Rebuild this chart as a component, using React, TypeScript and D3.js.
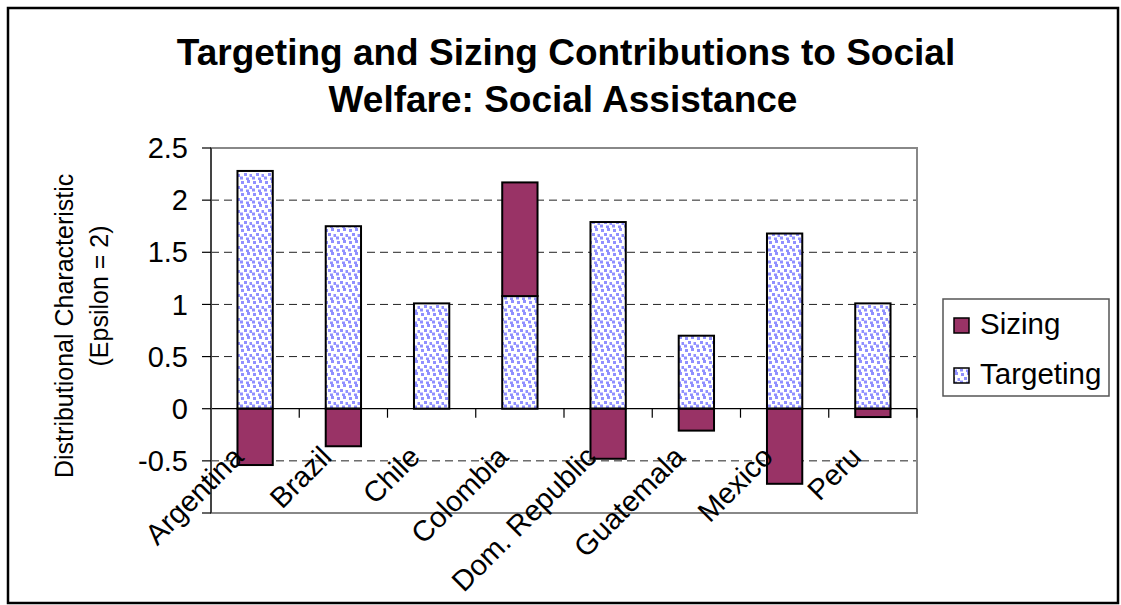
import React from "react";
import * as d3 from "d3";

const categories = ["Argentina", "Brazil", "Chile", "Colombia", "Dom. Republic", "Guatemala", "Mexico", "Peru"];
const targeting = [2.28, 1.75, 1.01, 1.08, 1.79, 0.7, 1.68, 1.01];
const sizing = [-0.54, -0.36, 0, 1.09, -0.48, -0.21, -0.72, -0.08];
const yTicks = [-1, -0.5, 0, 0.5, 1, 1.5, 2, 2.5];
const yTickLabels = ["", "-0.5", "0", "0.5", "1", "1.5", "2", "2.5"];
const seriesKeys = ["Targeting", "Sizing"];
const legendItems = ["Sizing", "Targeting"];

const W = 1121;
const H = 605;
const FONT = "Liberation Sans, Arial, sans-serif";
const PLOT = { left: 211, right: 917, top: 148, bottom: 513 };
const SIZING_COLOR = "#993366";
const DOT = "#9090ff";

export default function App() {
  const x = d3
    .scaleBand<string>()
    .domain(categories)
    .range([PLOT.left, PLOT.right])
    .paddingInner(0.6)
    .paddingOuter(0.3);
  const step = x.step();
  const y = d3.scaleLinear().domain([-1, 2.5]).range([PLOT.bottom, PLOT.top]);

  const rows = categories.map((c, i) => ({ cat: c, Targeting: targeting[i], Sizing: sizing[i] }));
  const stacked = d3
    .stack<any>()
    .keys(seriesKeys)
    .offset(d3.stackOffsetDiverging)(rows);

  const catCenter = (c: string) => (x(c) as number) + x.bandwidth() / 2;

  return (
    <svg
      width={W}
      height={H}
      style={{ position: "absolute", left: 0, top: 0, background: "#fff" }}
      fontFamily={FONT}
    >
      <defs>
        <pattern id="confetti" patternUnits="userSpaceOnUse" width="12" height="12">
          <rect width="12" height="12" fill="#ffffff" />
          <rect x="1" y="1" width="3" height="3" fill={DOT} />
          <rect x="7" y="0" width="3" height="3" fill={DOT} />
          <rect x="4" y="5" width="3" height="3" fill={DOT} />
          <rect x="9.5" y="6" width="2.5" height="3" fill={DOT} />
          <rect x="0" y="8.5" width="3" height="3" fill={DOT} />
          <rect x="6" y="9.5" width="3" height="2.5" fill={DOT} />
        </pattern>
        <clipPath id="ytitleclip">
          <rect x={0} y={173} width={200} height={400} />
        </clipPath>
      </defs>

      {/* outer border */}
      <rect x={8} y={8} width={1110} height={595} fill="#fff" stroke="#000" strokeWidth={2.5} />

      {/* title */}
      <text x={566} y={65} textAnchor="middle" fontSize={37} fontWeight="bold">
        Targeting and Sizing Contributions to Social
      </text>
      <text x={563} y={112} textAnchor="middle" fontSize={37} fontWeight="bold">
        Welfare: Social Assistance
      </text>

      {/* gridlines */}
      {yTicks
        .filter((t) => t !== 0 && t !== -1 && t !== 2.5)
        .map((t) => (
          <line
            key={"g" + t}
            x1={PLOT.left}
            x2={PLOT.right}
            y1={y(t)}
            y2={y(t)}
            stroke="#222"
            strokeWidth={1}
            strokeDasharray="8,5"
          />
        ))}

      {/* plot area border */}
      <rect
        x={PLOT.left}
        y={PLOT.top}
        width={PLOT.right - PLOT.left}
        height={PLOT.bottom - PLOT.top}
        fill="none"
        stroke="#888"
        strokeWidth={2}
      />

      {/* bars */}
      {stacked.map((s) =>
        s.map((d, i) => {
          const cat = categories[i];
          const y0 = y(d[0]);
          const y1 = y(d[1]);
          if (Math.abs(y0 - y1) < 0.01) return null;
          return (
            <rect
              key={s.key + cat}
              x={x(cat)}
              width={x.bandwidth()}
              y={Math.min(y0, y1)}
              height={Math.abs(y0 - y1)}
              fill={s.key === "Sizing" ? SIZING_COLOR : "url(#confetti)"}
              stroke="#000"
              strokeWidth={2}
            />
          );
        })
      )}

      {/* zero axis line */}
      <line x1={PLOT.left} x2={PLOT.right} y1={y(0)} y2={y(0)} stroke="#000" strokeWidth={1.2} />
      {d3.range(categories.length + 1).map((k) => (
        <line
          key={"xt" + k}
          x1={PLOT.left + k * step}
          x2={PLOT.left + k * step}
          y1={y(0)}
          y2={y(0) + 9}
          stroke="#000"
          strokeWidth={1.2}
        />
      ))}

      {/* y axis */}
      <line x1={PLOT.left} x2={PLOT.left} y1={PLOT.top} y2={PLOT.bottom} stroke="#444" strokeWidth={2} />
      {yTicks.map((t, i) => (
        <g key={"yt" + t}>
          <line x1={PLOT.left - 9} x2={PLOT.left} y1={y(t)} y2={y(t)} stroke="#000" strokeWidth={1.2} />
          {yTickLabels[i] !== "" && (
            <text x={188} y={y(t)} dy="0.35em" textAnchor="end" fontSize={29}>
              {yTickLabels[i]}
            </text>
          )}
        </g>
      ))}

      {/* x labels */}
      {categories.map((c) => (
        <text
          key={"xl" + c}
          transform={`translate(${catCenter(c) - 10},${y(0) + 50}) rotate(-45)`}
          textAnchor="end"
          fontSize={29}
        >
          {c}
        </text>
      ))}

      {/* y title */}
      <g clipPath="url(#ytitleclip)">
        <text transform="translate(73,478) rotate(-90)" textAnchor="start" fontSize={25}>
          Distributional Characteristics
        </text>
      </g>
      <text transform="translate(108,296) rotate(-90)" textAnchor="middle" fontSize={25}>
        (Epsilon = 2)
      </text>

      {/* legend */}
      <rect x={943} y={299} width={166} height={97} fill="#fff" stroke="#555" strokeWidth={1.5} />
      {legendItems.map((k, i) => (
        <g key={"lg" + k}>
          <rect
            x={954}
            y={318 + i * 50}
            width={15}
            height={15}
            fill={k === "Sizing" ? SIZING_COLOR : "url(#confetti)"}
            stroke="#000"
            strokeWidth={1.5}
          />
          <text x={980} y={334 + i * 50} fontSize={29.5}>
            {k}
          </text>
        </g>
      ))}
    </svg>
  );
}
